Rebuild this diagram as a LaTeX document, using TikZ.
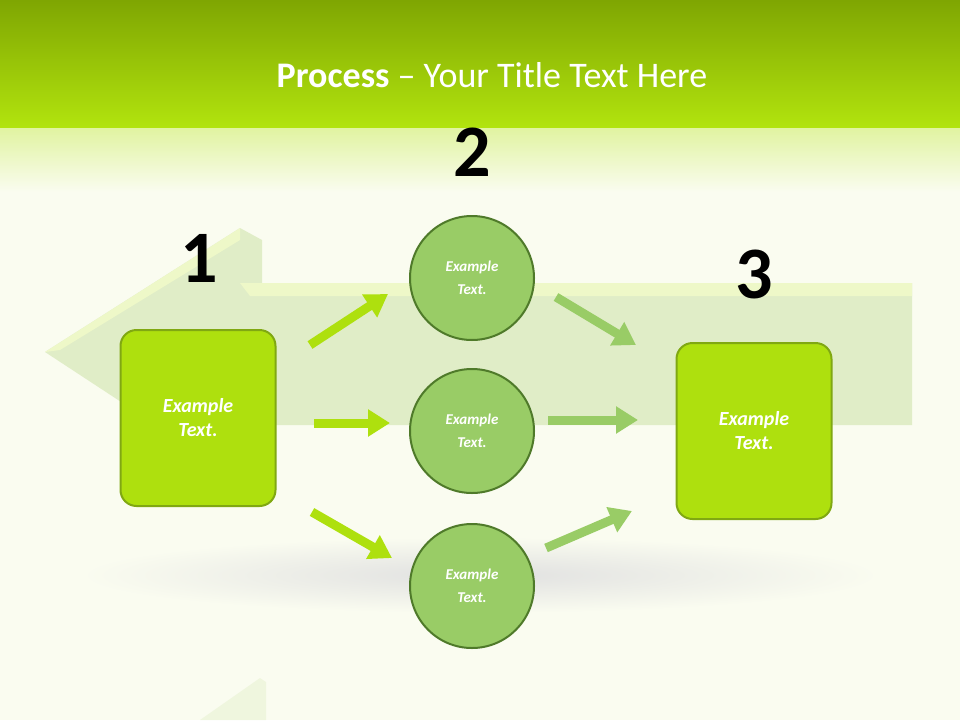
\documentclass[tikz,border=0pt]{standalone}
\usepackage{fontspec}
\setmainfont{Carlito}
\usetikzlibrary{arrows.meta}
\definecolor{bg}{HTML}{FAFCF0}
\definecolor{topA}{HTML}{7FA602}
\definecolor{topB}{HTML}{B2E40E}
\definecolor{lime}{HTML}{AEE00E}
\definecolor{limeD}{HTML}{80A812}
\definecolor{cgreen}{HTML}{99CC66}
\definecolor{cgreenD}{HTML}{4F7A2A}
\definecolor{bigA}{HTML}{DCEBC0}
\definecolor{bigE}{HTML}{EEF8C8}
\tikzset{
  x=1pt,y=-1pt,
  boxst/.style={draw=limeD,line width=2pt,fill=lime,rounded corners=16pt,minimum width=155pt,minimum height=176pt,text=white,font=\bfseries\itshape\fontsize{20}{24}\selectfont,align=center},
  circst/.style={circle,draw=cgreenD,line width=2pt,fill=cgreen,minimum size=124pt,text=white,font=\bfseries\itshape\fontsize{15}{23}\selectfont,align=center},
  numst/.style={font=\bfseries\fontsize{74}{74}\selectfont,text=black},
  arrL/.style={line width=9pt,lime,-{Triangle[length=22pt,width=26pt]}},
  arrR/.style={line width=9pt,cgreen,-{Triangle[length=22pt,width=26pt]}},
}
\begin{document}
\begin{tikzpicture}
\useasboundingbox (0,0) rectangle (960,720);
\fill[bg] (0,0) rectangle (960,720);
\shade[top color=topA,bottom color=topB] (0,0) rectangle (960,128);
\shade[top color=topB!35!bg,bottom color=bg] (0,128) rectangle (960,192);
% shadow
\shade[inner color=black!12,outer color=bg] (480,575) ellipse (400 and 38);
% big arrow
\fill[bigA,opacity=0.85] (45,352) -- (240,228) -- (262,240) -- (262,283) -- (912,283) -- (912,425) -- (262,425) -- (262,470) -- (240,480) -- cycle;
\fill[bigE] (45,352) -- (240,228) -- (240,240) -- (60,350) -- cycle;
\fill[bigE] (240,283) -- (912,283) -- (912,296) -- (250,296) -- cycle;
\fill[bigA!60!bg,opacity=0.6] (200,720) -- (260,678) -- (266,682) -- (266,720) -- cycle;
% title
\node (title) at (492,75) {\color{white}\fontsize{36}{40}\selectfont\textbf{Process} – Your Title Text Here};
% nodes
\node[boxst] (b1) at (198,418) {Example\\Text.};
\node[boxst] (b3) at (754,431) {Example\\Text.};
\node[circst] (c1) at (472,278) {Example\\Text.};
\node[circst] (c2) at (472,431) {Example\\Text.};
\node[circst] (c3) at (472,586) {Example\\Text.};
\node[numst] (n1) at (199,258) {1};
\node[numst] (n2) at (472,152) {2};
\node[numst] (n3) at (754,274) {3};
% arrows
\coordinate (a1s) at (310,345); \coordinate (a1e) at (388,294);
\coordinate (a2s) at (314,423); \coordinate (a2e) at (390,423);
\coordinate (a3s) at (312,512); \coordinate (a3e) at (392,558);
\coordinate (r1s) at (556,297); \coordinate (r1e) at (636,345);
\coordinate (r2s) at (548,420); \coordinate (r2e) at (638,420);
\coordinate (r3s) at (546,548); \coordinate (r3e) at (632,511);
\draw[arrL] (a1s) -- (a1e);
\draw[arrL] (a2s) -- (a2e);
\draw[arrL] (a3s) -- (a3e);
\draw[arrR] (r1s) -- (r1e);
\draw[arrR] (r2s) -- (r2e);
\draw[arrR] (r3s) -- (r3e);
\end{tikzpicture}
\end{document}
